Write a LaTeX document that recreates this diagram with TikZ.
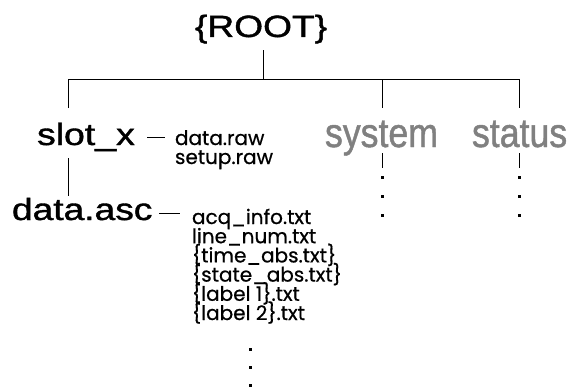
\documentclass[tikz,border=0pt]{standalone}
\usepackage{fontspec}
\setmainfont{Liberation Sans}
\newfontfamily\boldish[FakeBold=1.2]{Liberation Sans}
\newfontfamily\poppins[FakeBold=0.6]{Poppins}
\newcommand{\listfont}{\poppins\fontsize{20}{20}\selectfont}
\newcommand{\bigfont}{\boldish\fontsize{30.7}{30.7}\selectfont}
\newcommand{\grayfont}{\boldish\fontsize{41}{41}\selectfont}
\definecolor{lblgray}{HTML}{808080}
\begin{document}
\begin{tikzpicture}[x=1pt,y=-1pt,
  lbl/.style={inner sep=0pt,outer sep=0pt,anchor=base west},
  big/.style={lbl,font=\bigfont},
  grayl/.style={lbl,font=\grayfont,text=lblgray},
  item/.style={lbl,font=\listfont},
  conn/.style={line width=0.9pt,black},
  dotmark/.style={fill=black}]
\useasboundingbox (0,0) rectangle (574,388);
% main labels
\node[big] (root) at (195,37) {\scalebox{1.21}[1]{\{ROOT\}}};
\node[big] (slot) at (37,145) {\scalebox{1.22}[1]{slot\_x}};
\node[big] (asc) at (12,220) {\scalebox{1.21}[1]{data.asc}};
\node[grayl] (sys) at (325,147) {\scalebox{0.87}[1]{system}};
\node[grayl] (stat) at (472,147) {\scalebox{0.87}[1]{status}};
% slot_x files
\node[item] (raw1) at (175,145) {data.raw};
\node[item] (raw2) at (175,164) {setup.raw};
% data.asc files
\node[item] (f1) at (192,224) {acq\_info.txt};
\node[item] (f2) at (192,243.2) {line\_num.txt};
\node[item] (f3) at (192,262.4) {\{time\_abs.txt\}};
\node[item] (f4) at (192,281.6) {\{state\_abs.txt\}};
\node[item] (f5) at (192,300.8) {\{label 1\}.txt};
\node[item] (f6) at (192,320) {\{label 2\}.txt};
% tree coordinates
\coordinate (rt) at (263,50);
\coordinate (rb) at (263,79);
\coordinate (hl) at (68,79);
\coordinate (hm) at (382,79);
\coordinate (hr) at (519,79);
\coordinate (dl) at (68,108);
\coordinate (dm) at (382,108);
\coordinate (dr) at (519,108);
\draw[conn] (rt) -- (rb);
\draw[conn] (dl) -- (hl) -- (hr) -- (dr);
\draw[conn] (hm) -- (dm);
% slot_x to data.asc
\coordinate (s1) at (68,158);
\coordinate (s2) at (68,196);
\draw[conn] (s1) -- (s2);
% dashes
\coordinate (d1a) at (147,137);
\coordinate (d1b) at (165,137);
\draw[conn] (d1a) -- (d1b);
\coordinate (d2a) at (159,213);
\coordinate (d2b) at (180,213);
\draw[conn] (d2a) -- (d2b);
% system / status ticks
\coordinate (t1a) at (382,153);
\coordinate (t1b) at (382,168);
\coordinate (t2a) at (519,153);
\coordinate (t2b) at (519,168);
\draw[conn] (t1a) -- (t1b);
\draw[conn] (t2a) -- (t2b);
% dots
\foreach \yy in {177,196,215} {
  \fill[dotmark] (380.5,\yy-1.5) rectangle ++(3,3);
  \fill[dotmark] (517.5,\yy-1.5) rectangle ++(3,3);
}
\foreach \yy in {349,367,385} {
  \fill[dotmark] (248.5,\yy-1.5) rectangle ++(3,3);
}
\end{tikzpicture}
\end{document}
